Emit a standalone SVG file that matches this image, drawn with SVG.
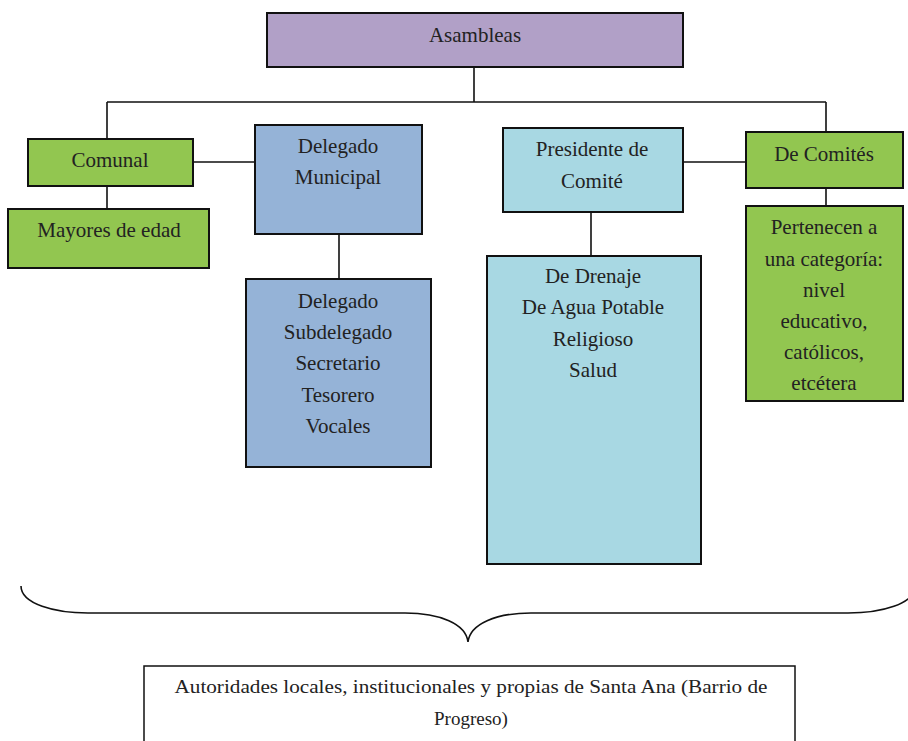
<svg xmlns="http://www.w3.org/2000/svg" width="908" height="741" viewBox="0 0 908 741">
<style>
.box{stroke:#111;stroke-width:2}
.purple{fill:#b1a0c7}
.green{fill:#92c650}
.blue{fill:#95b3d7}
.lblue{fill:#a8d8e3}
.white{fill:#fff;stroke:#111;stroke-width:1.5}
.t{font-family:"Liberation Serif","Times New Roman",serif;font-size:21px;fill:#222;text-anchor:middle}
.conn{stroke:#111;stroke-width:1.6;fill:none}
</style>
<rect width="908" height="741" fill="#fff"/>
<g id="connectors">
<path class="conn" d="M474,67 V102 M107,102 H826 M107,102 V139 M826,102 V132 M107,186 V209 M193,162 H255 M339,234 V279 M683,162 H746 M591,212 V256 M826,188 V206"/>
<path class="conn" d="M21,586 C21,604 55,613 88,613 L405,613 C440,613 466,624 468,642 C470,624 496,613 531,613 L848,613 C881,613 915,604 915,586"/>
</g>
<g id="asambleas"><rect class="box purple" x="267" y="13" width="416" height="54"/><text class="t" x="475" y="42">Asambleas</text></g>
<g id="comunal"><rect class="box green" x="28" y="139" width="165" height="47"/><text class="t" x="110" y="167">Comunal</text></g>
<g id="mayores"><rect class="box green" x="8" y="209" width="201" height="59"/><text class="t" x="109" y="237">Mayores de edad</text></g>
<g id="delegado-municipal"><rect class="box blue" x="255" y="125" width="167" height="109"/><text class="t" x="338" y="153">Delegado</text><text class="t" x="338" y="184">Municipal</text></g>
<g id="delegado-cargos"><rect class="box blue" x="246" y="279" width="185" height="188"/>
<text class="t" x="338" y="308">Delegado</text><text class="t" x="338" y="339">Subdelegado</text><text class="t" x="338" y="370">Secretario</text><text class="t" x="338" y="402">Tesorero</text><text class="t" x="338" y="433">Vocales</text></g>
<g id="presidente"><rect class="box lblue" x="503" y="128" width="180" height="84"/><text class="t" x="592" y="156">Presidente de</text><text class="t" x="592" y="188">Comité</text></g>
<g id="comites-lista"><rect class="box lblue" x="487" y="256" width="214" height="308"/>
<text class="t" x="593" y="283">De Drenaje</text><text class="t" x="593" y="314">De Agua Potable</text><text class="t" x="593" y="346">Religioso</text><text class="t" x="593" y="377">Salud</text></g>
<g id="de-comites"><rect class="box green" x="746" y="132" width="157" height="56"/><text class="t" x="824" y="161">De Comités</text></g>
<g id="pertenecen"><rect class="box green" x="746" y="206" width="157" height="195"/>
<text class="t" x="824" y="234">Pertenecen a</text><text class="t" x="824" y="266">una categoría:</text><text class="t" x="824" y="297">nivel</text><text class="t" x="824" y="328">educativo,</text><text class="t" x="824" y="359">católicos,</text><text class="t" x="824" y="390">etcétera</text></g>
<g id="autoridades"><rect class="white" x="144" y="666" width="651" height="90"/>
<text class="t" x="471" y="693" style="font-size:19px" textLength="593" lengthAdjust="spacingAndGlyphs">Autoridades locales, institucionales y propias de Santa Ana (Barrio de</text>
<text class="t" x="471" y="725" style="font-size:19px">Progreso)</text></g>
</svg>
